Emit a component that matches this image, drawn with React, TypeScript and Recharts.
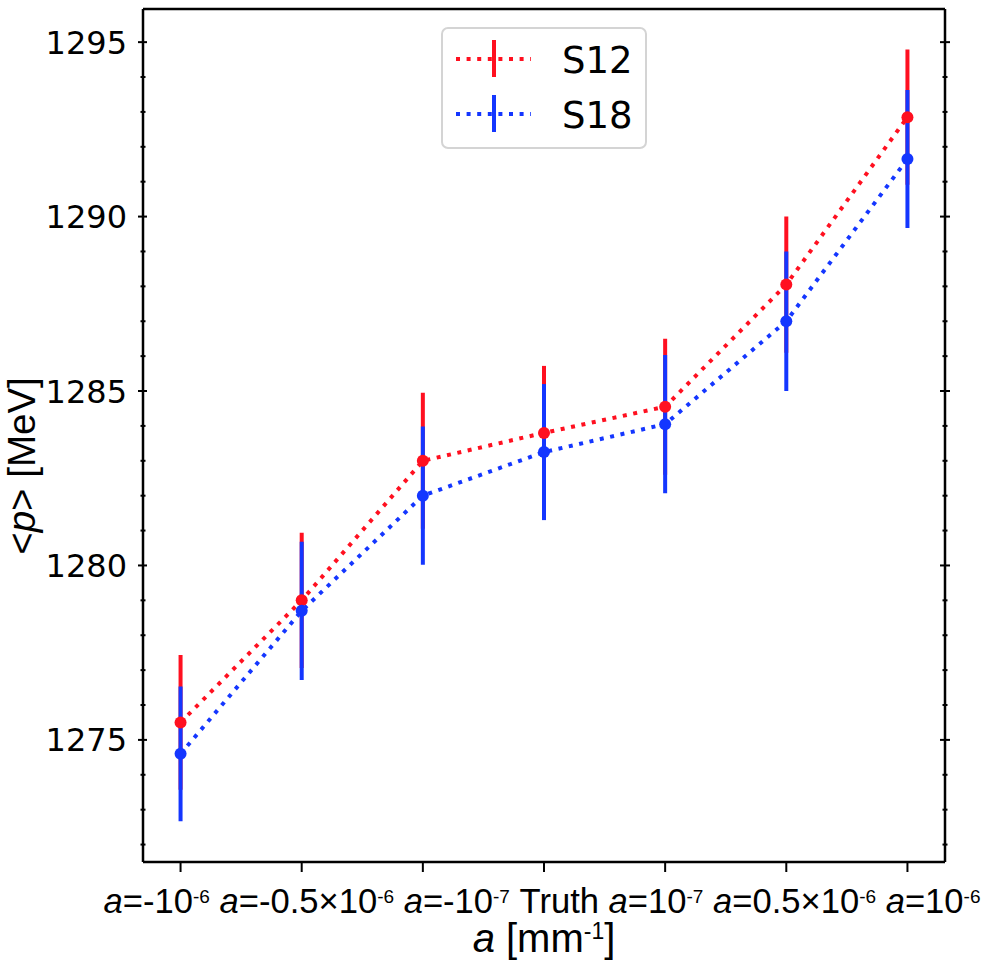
import React from 'react';
import { ComposedChart, Line, XAxis, YAxis, ErrorBar, Legend } from 'recharts';

// x categories (one per point), "^" marks the superscript part
const categories = ['a=-10^-6', 'a=-0.5×10^-6', 'a=-10^-7', 'Truth', 'a=10^-7', 'a=0.5×10^-6', 'a=10^-6'];

const s12Values = [1275.5, 1279.0, 1283.0, 1283.8, 1284.55, 1288.05, 1292.85];
const s12Errors = [1.93, 1.94, 1.95, 1.92, 1.95, 1.95, 1.94];
const s18Values = [1274.6, 1278.7, 1282.0, 1283.25, 1284.05, 1287.0, 1291.65];
const s18Errors = [1.93, 1.98, 1.98, 1.95, 1.98, 2.0, 1.98];

const majorTicks = [1275, 1280, 1285, 1290, 1295];
const yTicks = [
  1272, 1273, 1274, 1275, 1276, 1277, 1278, 1279, 1280, 1281, 1282, 1283,
  1284, 1285, 1286, 1287, 1288, 1289, 1290, 1291, 1292, 1293, 1294, 1295,
];
const xTicks = categories.map((_, i) => i);

const RED = '#ff1020';
const BLUE = '#1436ff';

const W = 988;
const H = 966;
const PLOT = { left: 143, top: 9, right: 945, bottom: 862 };

const rows = categories.map((c, i) => ({
  x: i,
  s12: s12Values[i],
  s12Err: s12Errors[i],
  s18: s18Values[i],
  s18Err: s18Errors[i],
}));

const SANS = '"Liberation Sans", Arial, sans-serif';
const DEJAVU = '"DejaVu Sans", sans-serif';

const LeftTick = (props: any) => {
  const { y, payload } = props;
  const major = majorTicks.includes(payload.value);
  const sx = PLOT.left;
  return (
    <g>
      <line x1={major ? sx - 5 : sx - 2.5} x2={major ? sx + 4 : sx + 2.5} y1={y} y2={y} stroke="#000" strokeWidth={2} />
      {major && (
        <text x={127} y={y} dy="0.36em" textAnchor="end" fontSize={32} fontFamily={DEJAVU} fill="#000">
          {payload.value}
        </text>
      )}
    </g>
  );
};

const RightTick = (props: any) => {
  const { y, payload } = props;
  const major = majorTicks.includes(payload.value);
  const sx = PLOT.right;
  return (
    <line x1={major ? sx - 5 : sx - 2.5} x2={major ? sx + 5 : sx + 2.5} y1={y} y2={y} stroke="#000" strokeWidth={2} />
  );
};

const XLabel = (props: any) => {
  const vb = props.viewBox || {};
  const cx = vb.width ? vb.x + vb.width / 2 : (PLOT.left + PLOT.right) / 2;
  let prevSup = false;
  return (
    <g>
      <text x={cx - 2} y={913} textAnchor="middle" fontSize={34.6} fontFamily={SANS} fill="#000">
        {categories.map((c, i) => {
          const [base, sup] = c.split('^');
          const italicA = base.startsWith('a=');
          const rest = italicA ? base.slice(1) : base;
          const shift = prevSup ? 10 : 0;
          prevSup = !!sup;
          return (
            <React.Fragment key={c}>
              <tspan dy={shift}>{i > 0 ? '\u00A0' : ''}</tspan>
              {italicA && <tspan fontStyle="italic">a</tspan>}
              <tspan>{rest}</tspan>
              {sup && (
                <tspan fontSize={19} dy={-10}>
                  {sup}
                </tspan>
              )}
            </React.Fragment>
          );
        })}
      </text>
      <text x={cx} y={952} textAnchor="middle" fontSize={40} fontFamily={SANS} fill="#000">
        <tspan fontStyle="italic">a</tspan>
        <tspan>{'\u00A0[mm'}</tspan>
        <tspan fontSize={23} dy={-13}>-1</tspan>
        <tspan dy={13}>]</tspan>
      </text>
    </g>
  );
};

const YLabel = () => {
  const cx = 35;
  const cy = 466;
  return (
    <text x={cx} y={cy} transform={`rotate(-90 ${cx} ${cy})`} textAnchor="middle" fontSize={38.5} fontFamily={SANS} fill="#000">
      <tspan>{'<'}</tspan>
      <tspan fontStyle="italic">p</tspan>
      <tspan>{'>\u00A0[MeV]'}</tspan>
    </text>
  );
};

const legendItems = [
  { name: 'S12', color: RED },
  { name: 'S18', color: BLUE },
];

const LegendBox = () => (
  <svg width={206} height={122} style={{ display: 'block' }}>
    <rect x={1} y={1} width={204} height={120} rx={6} fill="#fff" fillOpacity={0.8} stroke="#d4d4d4" strokeWidth={2} />
    {legendItems.map((item, i) => {
      const cy = 32 + i * 55;
      return (
        <g key={item.name}>
          <line x1={15} x2={90} y1={cy} y2={cy} stroke={item.color} strokeWidth={4} strokeDasharray="4 6.6" />
          <line x1={53} x2={53} y1={cy - 19} y2={cy + 18} stroke={item.color} strokeWidth={4} />
          <text x={121} y={cy + 14} fontSize={37} fontFamily={DEJAVU} fill="#000">
            {item.name}
          </text>
        </g>
      );
    })}
  </svg>
);

const dotOf = (color: string) => (p: any) => <circle key={p.index} cx={p.cx} cy={p.cy} r={6} fill={color} />;

export default function App() {
  const spine = { stroke: '#000', strokeWidth: 2.5 };
  return (
    <div style={{ width: W, height: H }}>
      <style>{'body { margin: 0; overflow: hidden; }'}</style>
      <ComposedChart
        width={W}
        height={H}
        data={rows}
        margin={{ top: PLOT.top - 1, right: 0, bottom: 0, left: 0 }}
        style={{ overflow: 'visible' }}
      >
        <XAxis
          dataKey="x"
          type="number"
          domain={[-0.31, 6.31]}
          ticks={xTicks}
          interval={0}
          allowDataOverflow
          height={H - PLOT.bottom}
          axisLine={spine}
          tickLine={{ stroke: '#000', strokeWidth: 2 }}
          tickSize={10}
          tick={() => <g />}
          label={(p: any) => <XLabel {...p} />}
        />
        <XAxis
          xAxisId="top"
          orientation="top"
          type="number"
          domain={[-0.31, 6.31]}
          allowDataOverflow
          height={1}
          tick={false}
          tickLine={false}
          axisLine={spine}
        />
        <YAxis
          type="number"
          domain={[1271.5, 1295.95]}
          ticks={yTicks}
          interval={0}
          allowDataOverflow
          width={PLOT.left}
          axisLine={spine}
          tickLine={false}
          tick={<LeftTick />}
          label={() => <YLabel />}
        />
        <YAxis
          yAxisId="right"
          orientation="right"
          type="number"
          domain={[1271.5, 1295.95]}
          ticks={yTicks}
          interval={0}
          allowDataOverflow
          width={W - PLOT.right}
          axisLine={spine}
          tickLine={false}
          tick={<RightTick />}
        />
        <Legend
          layout="vertical"
          align="center"
          verticalAlign="middle"
          wrapperStyle={{ left: 441, top: 27, width: 206, height: 122 }}
          content={() => <LegendBox />}
        />
        <Line dataKey="s12" stroke="none" dot={false} activeDot={false} isAnimationActive={false} legendType="none">
          <ErrorBar dataKey="s12Err" direction="y" width={0} stroke={RED} strokeWidth={4} isAnimationActive={false} />
        </Line>
        <Line dataKey="s18" stroke="none" dot={false} activeDot={false} isAnimationActive={false} legendType="none">
          <ErrorBar dataKey="s18Err" direction="y" width={0} stroke={BLUE} strokeWidth={4} isAnimationActive={false} />
        </Line>
        <Line
          type="linear"
          dataKey="s12"
          stroke={RED}
          strokeWidth={4}
          strokeDasharray="4 6.6"
          dot={dotOf(RED)}
          activeDot={false}
          isAnimationActive={false}
        />
        <Line
          type="linear"
          dataKey="s18"
          stroke={BLUE}
          strokeWidth={4}
          strokeDasharray="4 6.6"
          dot={dotOf(BLUE)}
          activeDot={false}
          isAnimationActive={false}
        />
      </ComposedChart>
    </div>
  );
}
